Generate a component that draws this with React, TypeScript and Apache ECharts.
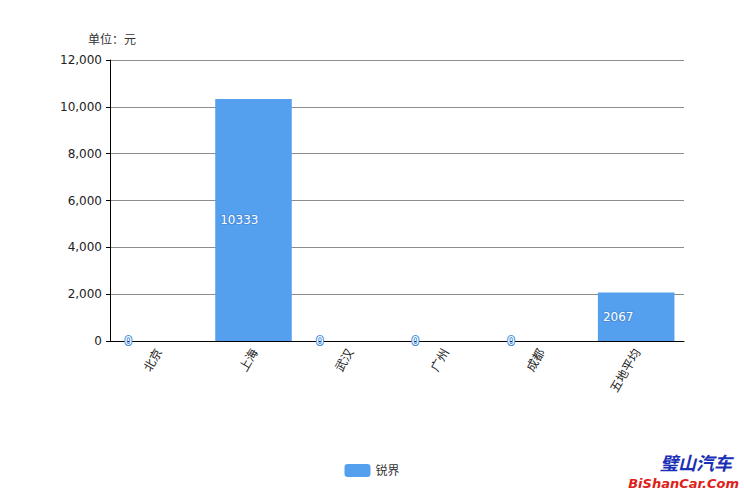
import React, { useEffect, useRef } from "react";
import * as echarts from "echarts";

const categories = ["北京", "上海", "武汉", "广州", "成都", "五地平均"];
const seriesName = "锐界";
const values = [0, 10333, 0, 0, 0, 2067];
const yMin = 0;
const yMax = 12000;
const yInterval = 2000;

const barColor = "#559FEF";

export default function App() {
  const ref = useRef<HTMLDivElement>(null);

  useEffect(() => {
    document.body.style.margin = "0";
    if (!ref.current) return;
    const chart = echarts.init(ref.current, undefined, { renderer: "svg" });
    chart.setOption({
      animation: false,
      backgroundColor: "#ffffff",
      textStyle: { fontFamily: "DejaVu Sans, Noto Sans CJK SC, sans-serif" },
      grid: { left: 110, right: 60, top: 60, bottom: 155 },
      legend: {
        bottom: 14,
        left: "center",
        itemWidth: 26,
        itemHeight: 13,
        icon: "roundRect",
        textStyle: { fontSize: 12, color: "#333" },
        data: [seriesName],
      },
      graphic: [
        {
          type: "text",
          left: 88,
          top: 32,
          style: { text: "单位：元", fontSize: 12, fill: "#333", fontFamily: "Noto Sans CJK SC, sans-serif" },
        },
        {
          type: "text",
          right: 12,
          bottom: 25,
          style: {
            text: "璧山汽车",
            fontSize: 18,
            fontWeight: "bold",
            fontStyle: "italic",
            fill: "#1a2fb5",
            fontFamily: "Noto Sans CJK SC, sans-serif",
          },
        },
        {
          type: "text",
          right: 5,
          bottom: 6,
          style: {
            text: "BiShanCar.Com",
            fontSize: 13,
            fontWeight: "bold",
            fontStyle: "italic",
            fill: "#e0201a",
            textShadowColor: "rgba(120,0,0,0.5)",
            textShadowOffsetX: 1,
            textShadowOffsetY: 1,
            fontFamily: "DejaVu Sans, sans-serif",
          },
        },
      ],
      xAxis: {
        type: "category",
        data: categories,
        axisLine: { show: true, lineStyle: { color: "#000", width: 1 } },
        axisTick: { show: false },
        axisLabel: {
          rotate: 60,
          interval: 0,
          margin: 8,
          fontSize: 12,
          color: "#222",
          fontFamily: "Noto Sans CJK SC, sans-serif",
        },
      },
      yAxis: {
        type: "value",
        min: yMin,
        max: yMax,
        interval: yInterval,
        axisLine: { show: true, lineStyle: { color: "#000", width: 1 } },
        axisTick: { show: true, length: 4, lineStyle: { color: "#000" } },
        axisLabel: {
          fontSize: 12,
          color: "#222",
          margin: 8,
          formatter: (v: number) => v.toLocaleString("en-US"),
        },
        splitLine: { show: true, lineStyle: { color: "#8c8c8c", width: 1 } },
      },
      series: [
        {
          name: seriesName,
          type: "bar",
          data: values,
          barWidth: "80%",
          itemStyle: { color: barColor },
          label: {
            show: true,
            position: "insideLeft",
            distance: 5,
            color: "#fff",
            fontSize: 12,
            textBorderColor: "#4a8fe0",
            textBorderWidth: 2,
          },
        },
      ],
    });
    return () => chart.dispose();
  }, []);

  return <div ref={ref} style={{ width: 744, height: 496 }} />;
}
